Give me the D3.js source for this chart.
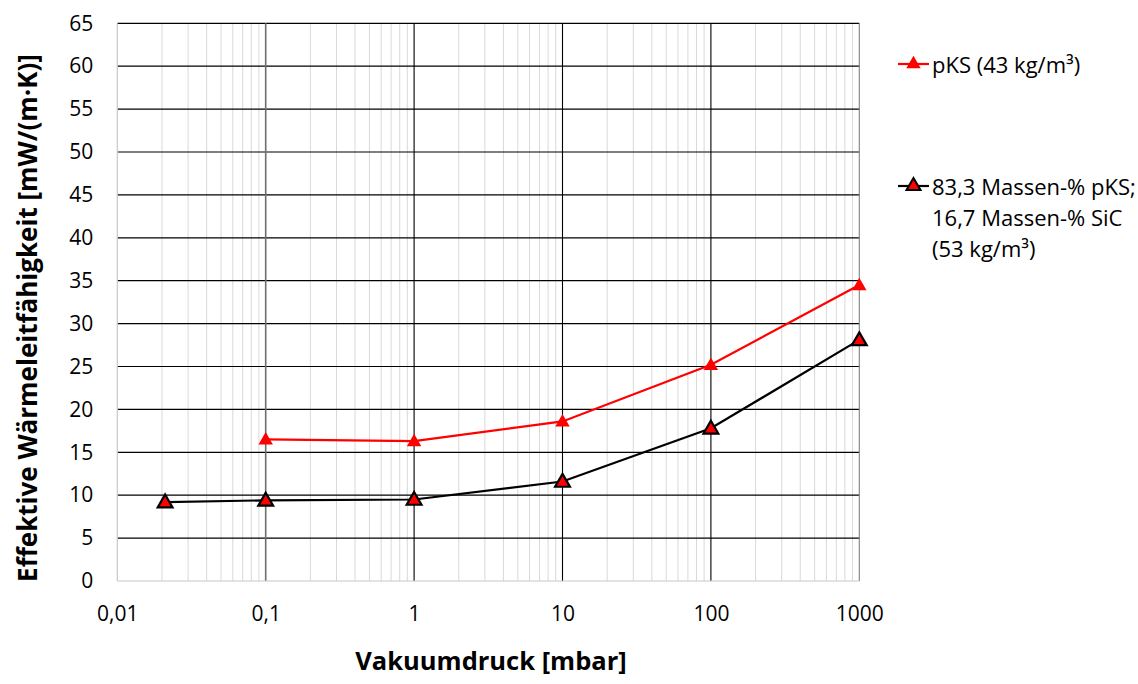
<!DOCTYPE html>
<html><head><meta charset="utf-8">
<script src="https://cdn.jsdelivr.net/npm/d3@7"></script>
<style>body{margin:0;background:#fff}svg{display:block}text{font-family:"Open Sans",sans-serif}</style>
</head><body><svg id="c" width="1138" height="684"></svg>
<script>
const xTicks=[0.01,0.1,1,10,100,1000];
const xTickLabels=["0,01","0,1","1","10","100","1000"];
const yTicks=[0,5,10,15,20,25,30,35,40,45,50,55,60,65];
const pksX=[0.1,1,10,100,1000];
const pksY=[16.5,16.3,18.6,25.2,34.5];
const sicX=[0.021,0.1,1,10,100,1000];
const sicY=[9.2,9.4,9.5,11.6,17.8,28.1];
const seriesNames=["pKS (43 kg/m³)",["83,3 Massen-% pKS;","16,7 Massen-% SiC","(53 kg/m³)"]];

const svg=d3.select("#c");
const L=117.3,R=859.3,T=23.3,B=581;
const x=d3.scaleLog().domain([0.01,1000]).range([L,R]);
const y=d3.scaleLinear().domain([0,65]).range([B,T]);

// minor vertical grid
const minor=[];
for(let d=0.01;d<1000;d*=10){for(let k=2;k<=9;k++)minor.push(d*k);}
svg.append("g").selectAll("line").data(minor).join("line")
 .attr("x1",d=>x(d)).attr("x2",d=>x(d)).attr("y1",T).attr("y2",B)
 .attr("stroke","#d9d9d9").attr("stroke-width",1);
// horizontal grid
svg.append("g").selectAll("line").data(yTicks.filter(v=>v>0)).join("line")
 .attr("x1",L).attr("x2",R).attr("y1",d=>y(d)).attr("y2",d=>y(d))
 .attr("stroke","#000").attr("stroke-width",1.2);
// major vertical grid
svg.append("g").selectAll("line").data(xTicks.slice(1)).join("line")
 .attr("x1",d=>x(d)).attr("x2",d=>x(d)).attr("y1",T).attr("y2",B)
 .attr("stroke",d=>d===0.1?"#6e6e6e":(d===1000?"#808080":"#000")).attr("stroke-width",d=>d===0.1?1.6:1.1);
// axis lines
svg.append("line").attr("x1",L).attr("x2",L).attr("y1",T).attr("y2",B).attr("stroke","#c8c8c8").attr("stroke-width",1.2);
svg.append("line").attr("x1",L).attr("x2",R).attr("y1",B).attr("y2",B).attr("stroke","#c8c8c8").attr("stroke-width",1.2);

// axes labels via d3 axes
const yAx=svg.append("g").attr("transform",`translate(${L},0)`)
 .call(d3.axisLeft(y).tickValues(yTicks).tickSize(0).tickPadding(24).tickFormat(d3.format("d")));
yAx.select(".domain").remove();
yAx.selectAll("text").attr("font-size",21).attr("fill","#000").attr("font-family","Open Sans");
const xAx=svg.append("g").attr("transform",`translate(0,${B})`)
 .call(d3.axisBottom(x).tickValues(xTicks).tickSize(0).tickPadding(25).tickFormat((d,i)=>xTickLabels[i]));
xAx.select(".domain").remove();
xAx.selectAll("text").attr("font-size",21).attr("fill","#000").attr("font-family","Open Sans");

// titles
svg.append("text").attr("x",491).attr("y",669.5).attr("text-anchor","middle")
 .attr("font-size",25.5).attr("font-weight","bold").text("Vakuumdruck [mbar]");
svg.append("text").attr("transform","translate(37,318) rotate(-90)").attr("text-anchor","middle")
 .attr("font-size",26).attr("font-weight","bold").text("Effektive Wärmeleitfähigkeit [mW/(m·K)]");

const line=d3.line().x(d=>x(d[0])).y(d=>y(d[1]));
const tri=d3.symbol().type(d3.symbolTriangle);
const pks=pksX.map((v,i)=>[v,pksY[i]]);
const sic=sicX.map((v,i)=>[v,sicY[i]]);

svg.append("path").datum(pks).attr("d",line).attr("fill","none").attr("stroke","#ff0000").attr("stroke-width",2.2);
svg.append("path").datum(sic).attr("d",line).attr("fill","none").attr("stroke","#000").attr("stroke-width",2.2);
svg.append("g").selectAll("path").data(pks).join("path")
 .attr("transform",d=>`translate(${x(d[0])},${y(d[1])+1})`).attr("d",tri.size(90)).attr("fill","#ff0000");
svg.append("g").selectAll("path").data(sic).join("path")
 .attr("transform",d=>`translate(${x(d[0])},${y(d[1])+1})`).attr("d",tri.size(95)).attr("fill","#ff0000").attr("stroke","#000").attr("stroke-width",2.2);

// legend
const lg=svg.append("g");
lg.append("line").attr("x1",898).attr("x2",929).attr("y1",64).attr("y2",64).attr("stroke","#ff0000").attr("stroke-width",2.2);
lg.append("path").attr("transform","translate(913.5,64)").attr("d",tri.size(90)).attr("fill","#ff0000");
lg.append("text").attr("x",932).attr("y",73).attr("font-size",22).text(seriesNames[0]);
lg.append("line").attr("x1",898).attr("x2",929).attr("y1",186).attr("y2",186).attr("stroke","#000").attr("stroke-width",2.2);
lg.append("path").attr("transform","translate(913.5,186)").attr("d",tri.size(85)).attr("fill","#ff0000").attr("stroke","#000").attr("stroke-width",2);
seriesNames[1].forEach((t,i)=>lg.append("text").attr("x",932).attr("y",195+i*31).attr("font-size",22).text(t));
</script></body></html>
